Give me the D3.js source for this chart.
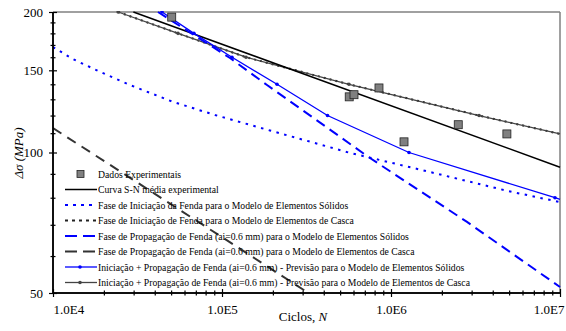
<!DOCTYPE html>
<html>
<head>
<meta charset="utf-8">
<script src="https://cdn.jsdelivr.net/npm/d3@7"></script>
<style>
  body { margin: 0; background: #fff; }
  text { font-family: "Liberation Serif", "Times New Roman", serif; }
</style>
</head>
<body>
<svg id="chart" width="566" height="331"></svg>
<script>
// data (N in cycles, S in MPa)
const expN = [50400, 566000, 604000, 849000, 1194000, 2500000, 4850000];
const expS = [195, 131.6, 133, 137.5, 105.4, 114.7, 109.6];

const snN = [29900, 1e7];
const snS = [200, 93];

const iniSolN = [1e4, 13100, 18500, 28600, 50600, 90900, 192000, 572000, 1525000, 4920000, 1e7];
const iniSolS = [168.3, 158.6, 149.5, 139.5, 128.6, 120.3, 111.5, 99.8, 91.7, 82.7, 78.3];

const iniCasN = [24300, 54900, 138700, 564000, 3320000, 1e7];
const iniCasS = [200, 180, 160, 140, 120, 109.6];

const propSolN = [41800, 111500, 184600, 751000, 2817000, 1e7];
const propSolS = [200, 159.4, 139.5, 97.3, 71.0, 51.5];

const propCasN = [1e4, 325000];
const propCasS = [112.8, 50];

const totSolN = [44150, 68200, 114600, 211600, 421000, 1278000, 9340000, 1e7];
const totSolS = [200, 180, 160, 140, 120, 100, 80, 79.4];

const totCasN = [24300, 54900, 138700, 564000, 3320000, 1e7];
const totCasS = [200, 180, 160, 140, 120, 109.6];

const xMajor = [1e4, 1e5, 1e6, 1e7];
const xLabels = ["1.0E4", "1.0E5", "1.0E6", "1.0E7"];
const yMajor = [50, 100, 150, 200];
const yMinor = [60, 70, 80, 90, 110, 120, 130, 140, 160, 170, 180, 190];

const legendLabels = [
  "Dados Experimentais",
  "Curva S-N média experimental",
  "Fase de Iniciação da Fenda para o Modelo de Elementos Sólidos",
  "Fase de Iniciação de Fenda para o Modelo de Elementos de Casca",
  "Fase de Propagação de Fenda (ai=0.6 mm) para o Modelo de Elementos Sólidos",
  "Fase de Propagação de Fenda (ai=0.6 mm) para o Modelo de Elementos de Casca",
  "Iniciação + Propagação de Fenda (ai=0.6 mm) - Previsão para o Modelo de Elementos Sólidos",
  "Iniciação + Propagação de Fenda (ai=0.6 mm) - Previsão para o Modelo de Elementos de Casca"
];

const svg = d3.select("#chart");
const margin = { top: 12, right: 6, bottom: 38, left: 53 };
const width = +svg.attr("width");
const height = +svg.attr("height");
const innerWidth = width - margin.left - margin.right;
const innerHeight = height - margin.top - margin.bottom;

const xScale = d3.scaleLog().domain([1e4, 1e7]).range([0, innerWidth]);
const yScale = d3.scaleLog().domain([50, 200]).range([innerHeight, 0]);

const g = svg.append("g").attr("transform", `translate(${margin.left},${margin.top})`);

g.append("clipPath").attr("id", "plot-clip")
  .append("rect").attr("x", 0).attr("y", -1).attr("width", innerWidth + 1).attr("height", innerHeight + 1);

// frame (top + right are grey)
g.append("line").attr("x1", 0).attr("x2", innerWidth).attr("y1", 0).attr("y2", 0)
  .attr("stroke", "#808080").attr("stroke-width", 1.5);
g.append("line").attr("x1", innerWidth).attr("x2", innerWidth).attr("y1", 0).attr("y2", innerHeight)
  .attr("stroke", "#808080").attr("stroke-width", 1.5);

// series
const series = [
  { n: iniCasN, s: iniCasS, color: "#222", width: 2, dash: "2,4" },
  { n: totCasN, s: totCasS, color: "#444", width: 1.3, dash: null, marker: true },
  { n: snN, s: snS, color: "#000", width: 1.5, dash: null },
  { n: iniSolN, s: iniSolS, color: "#0000ff", width: 2, dash: "2.5,5.5" },
  { n: propSolN, s: propSolS, color: "#0000ff", width: 2, dash: "10,6" },
  { n: propCasN, s: propCasS, color: "#333", width: 2, dash: "10,7" },
  { n: totSolN, s: totSolS, color: "#0000ff", width: 1.3, dash: null, marker: true }
];

const line = d3.line().x((d) => xScale(d[0])).y((d) => yScale(d[1]));
const plot = g.append("g").attr("clip-path", "url(#plot-clip)");

series.forEach((sr) => {
  const pts = sr.n.map((v, i) => [v, sr.s[i]]);
  plot.append("path")
    .attr("d", line(pts))
    .attr("fill", "none")
    .attr("stroke", sr.color)
    .attr("stroke-width", sr.width)
    .attr("stroke-dasharray", sr.dash);
  if (sr.marker) {
    plot.selectAll(null).data(pts.slice(0, -1)).enter().append("circle")
      .attr("cx", (d) => xScale(d[0]))
      .attr("cy", (d) => yScale(d[1]))
      .attr("r", 1.8)
      .attr("fill", sr.color);
  }
});

// experimental points
g.selectAll(".exp").data(expN).enter().append("rect")
  .attr("class", "exp")
  .attr("x", (d) => xScale(d) - 4)
  .attr("y", (d, i) => yScale(expS[i]) - 4)
  .attr("width", 8).attr("height", 8)
  .attr("fill", "#808080").attr("stroke", "#222").attr("stroke-width", 0.8);

// y axis: minor ticks, then major ticks with labels (ticks cross the axis)
const yMinG = g.append("g").call(d3.axisLeft(yScale).tickValues(yMinor).tickFormat("").tickSize(2.5));
yMinG.selectAll(".tick line").attr("x1", 2.5);
const yMajG = g.append("g").call(d3.axisLeft(yScale).tickValues(yMajor).tickFormat(d3.format("d")).tickSize(4).tickPadding(6));
yMajG.selectAll(".tick line").attr("x1", 4);
yMajG.selectAll("text").attr("font-size", 13).attr("fill", "#000");
[yMinG, yMajG].forEach((a) => {
  a.selectAll(".tick line").attr("stroke", "#000").attr("stroke-width", 1.2);
  a.selectAll(".domain").attr("stroke", "#000").attr("stroke-width", 1.5).attr("d", `M0,0V${innerHeight}`);
});

// x axis
const xMinor = [];
[1e4, 1e5, 1e6].forEach((b) => { for (let k = 2; k <= 9; k++) xMinor.push(b * k); });
const xAxisG = g.append("g").attr("transform", `translate(0,${innerHeight})`);
xAxisG.call(d3.axisBottom(xScale).tickValues(xMinor).tickFormat("").tickSize(2.5));
xAxisG.selectAll(".tick line").attr("y1", -2.5);
const xMajG = g.append("g").attr("transform", `translate(0,${innerHeight})`)
  .call(d3.axisBottom(xScale).tickValues(xMajor).tickFormat((d, i) => xLabels[i]).tickSize(4).tickPadding(8));
xMajG.selectAll(".tick line").attr("y1", -4);
xMajG.selectAll("text").attr("font-size", 13).attr("fill", "#000")
  .attr("text-anchor", (d, i) => (i === 0 ? "start" : i === 3 ? "end" : "middle"))
  .attr("dx", (d, i) => (i === 3 ? 4 : 0));
[xAxisG, xMajG].forEach((a) => {
  a.selectAll(".tick line").attr("stroke", "#000").attr("stroke-width", 1.2);
  a.selectAll(".domain").attr("stroke", "#000").attr("stroke-width", 1.5).attr("d", `M0,0H${innerWidth}`);
});

// axis titles
const xt = g.append("text").attr("x", 250).attr("y", innerHeight + 28)
  .attr("text-anchor", "middle").attr("font-size", 13);
xt.append("tspan").text("Ciclos, ");
xt.append("tspan").attr("font-style", "italic").text("N");

const yt = g.append("text").attr("transform", `translate(-30,141) rotate(-90)`)
  .attr("text-anchor", "middle").attr("font-size", 13);
yt.append("tspan").attr("font-style", "italic").text("Δσ ");
yt.append("tspan").attr("font-style", "italic").text("(MPa)");

// legend
const legendStyles = [
  { type: "square" },
  { color: "#000", width: 1.5, dash: null },
  { color: "#0000ff", width: 2, dash: "3,5" },
  { color: "#222", width: 2, dash: "3,4" },
  { color: "#0000ff", width: 2, dash: "12,6" },
  { color: "#333", width: 2, dash: "12,6" },
  { color: "#0000ff", width: 1.3, dash: null, marker: true },
  { color: "#444", width: 1.3, dash: null, marker: true }
];
const legend = g.append("g").attr("transform", "translate(12,162)");
legendLabels.forEach((lab, i) => {
  const row = legend.append("g").attr("transform", `translate(0,${i * 15.5})`);
  const st = legendStyles[i];
  if (st.type === "square") {
    row.append("rect").attr("x", 12).attr("y", -3.5).attr("width", 7).attr("height", 7)
      .attr("fill", "#808080").attr("stroke", "#222").attr("stroke-width", 0.8);
  } else {
    row.append("line").attr("x1", 0).attr("x2", 32).attr("y1", 0).attr("y2", 0)
      .attr("stroke", st.color).attr("stroke-width", st.width).attr("stroke-dasharray", st.dash);
    if (st.marker) row.append("circle").attr("cx", 15).attr("cy", 0).attr("r", 1.8).attr("fill", st.color);
  }
  row.append("text").attr("x", 33).attr("y", 3.5).attr("font-size", 9.7).attr("fill", "#000").text(lab);
});
</script>
</body>
</html>
